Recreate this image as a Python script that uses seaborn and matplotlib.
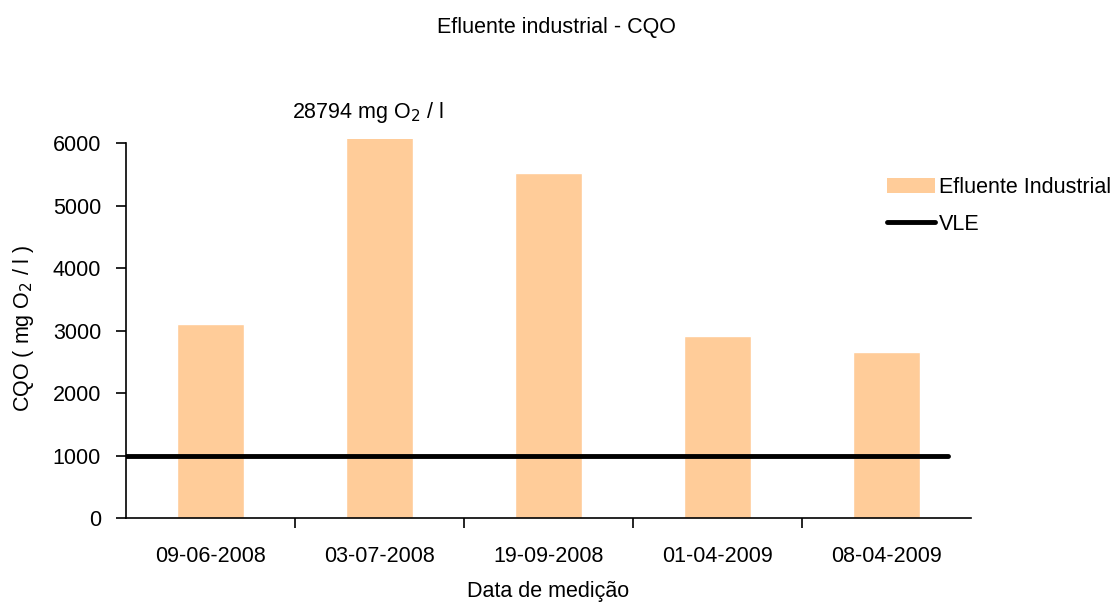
import numpy as np
import pandas as pd
import matplotlib
matplotlib.use("Agg")
import matplotlib.pyplot as plt
import seaborn as sns
from matplotlib.patches import Patch
from matplotlib.lines import Line2D

# ---------------------------------------------------------
# DATA
# ---------------------------------------------------------
datas = ["09-06-2008", "03-07-2008", "19-09-2008", "01-04-2009", "08-04-2009"]
cqo = [3100, 28794, 5520, 2920, 2660]
vle = 1000

df = pd.DataFrame({"Data": datas, "CQO": cqo})

# ---------------------------------------------------------
# PLOT
# ---------------------------------------------------------
sns.set_style("white")
plt.rcParams["font.family"] = ["Liberation Sans", "DejaVu Sans"]
plt.rcParams["text.color"] = "black"
plt.rcParams["axes.labelcolor"] = "black"
plt.rcParams["xtick.color"] = "black"
plt.rcParams["ytick.color"] = "black"

FS = 15.5

fig = plt.figure(figsize=(11.2, 6.05), dpi=100)
ax = fig.add_axes([0.1125, 0.1438, 0.7545, 0.627])

sns.barplot(data=df, x="Data", y="CQO", color="#FFCC99", width=0.4,
            saturation=1, ax=ax)

ax.axhline(vle, xmin=0, xmax=0.973, color="black", lw=3.5)

ax.set_ylim(0, 6070)
ax.set_xlim(-0.5, len(datas) - 0.5)
ax.set_yticks(range(0, 7000, 1000))
ax.tick_params(axis="y", labelsize=FS, length=7, width=1.2, direction="out",
               left=True, pad=11)
ax.tick_params(axis="x", which="major", labelsize=FS, length=0, pad=20)
ax.set_xticks(np.arange(0.5, len(datas) - 0.5, 1), minor=True)
ax.tick_params(axis="x", which="minor", length=7, width=1.2, bottom=True,
               direction="out")

for side in ["top", "right"]:
    ax.spines[side].set_visible(False)
for side in ["left", "bottom"]:
    ax.spines[side].set_color("black")
    ax.spines[side].set_linewidth(1.2)
ax.spines["left"].set_bounds(0, 6000)

ax.set_xlabel("Data de medição", fontsize=FS, labelpad=10)
ax.set_ylabel("CQO ( mg O$_2$ / l )", fontsize=FS, labelpad=12)

# off-scale value label above the clipped bar
ax.annotate("28794 mg O$_2$ / l", xy=(1, 6070), xytext=(-8, 10),
            textcoords="offset points", ha="center", va="bottom", fontsize=FS,
            annotation_clip=False)

fig.text(0.497, 0.955, "Efluente industrial - CQO", ha="center", va="center",
         fontsize=FS)

handles = [Patch(facecolor="#FFCC99", edgecolor="none"),
           Line2D([0], [0], color="black", lw=3.5)]
fig.legend(handles, ["Efluente Industrial", "VLE"], loc="upper left",
           bbox_to_anchor=(0.775, 0.74), frameon=False, fontsize=FS,
           handlelength=2.2, handletextpad=0.2, labelspacing=0.75)

fig.savefig("out.png", dpi=100, facecolor="white")
